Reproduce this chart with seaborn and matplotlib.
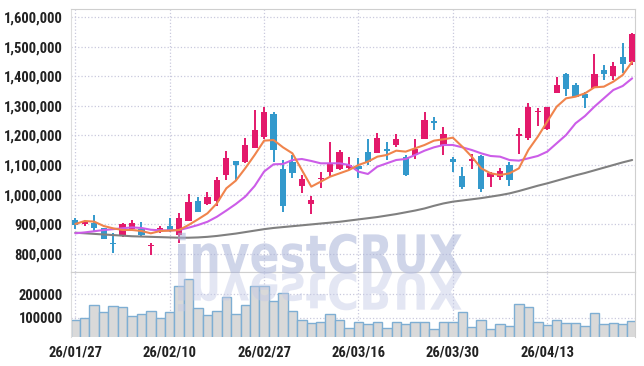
import matplotlib
matplotlib.use("Agg")
import matplotlib.pyplot as plt
from matplotlib import font_manager as fm
from matplotlib.textpath import TextPath
from matplotlib.patches import PathPatch
from matplotlib.transforms import Affine2D, IdentityTransform
from matplotlib.ticker import FuncFormatter
import pandas as pd
import seaborn as sns

# trading days shown (2026)
dates = [
    "01-27", "01-28", "01-29", "01-30",
    "02-02", "02-03", "02-04", "02-05", "02-06", "02-09", "02-10", "02-11", "02-12", "02-13",
    "02-19", "02-20", "02-23", "02-24", "02-25", "02-26", "02-27",
    "03-03", "03-04", "03-05", "03-06", "03-09", "03-10", "03-11", "03-12", "03-13", "03-16",
    "03-17", "03-18", "03-19", "03-20", "03-23", "03-24", "03-25", "03-26", "03-27", "03-30", "03-31",
    "04-01", "04-02", "04-03", "04-06", "04-07", "04-08", "04-09", "04-10", "04-13",
    "04-14", "04-15", "04-16", "04-17", "04-20", "04-21", "04-22", "04-23", "04-24",
]

open_ = [914000, 900500, 905000, 885800, 837300, 859900, 884700, 882400, 826000, 874500,
         893700, 864400, 911800, 978300, 969300, 979500, 1066300, 1112600, 1111400, 1158800,
         1196000, 1272700, 1086600, 1111400, 1030200, 967000, 1051600, 1077600, 1085500, 1088900,
         1096800, 1144100, 1141900, 1153200, 1167800, 1126100, 1134000, 1189300, 1249000, 1166700,
         1120400, 1062900, 1114800, 1131700, 1060700, 1060700, 1100100, 1199400, 1192600, 1278400,
         1222000, 1344900, 1408100, 1369700, 1340400, 1361800, 1420500, 1402500, 1464500, 1447600]
high = [919700, 914000, 930900, 887000, 868900, 905000, 914000, 908400, 835100, 893700,
        919700, 936600, 1000900, 993000, 1009900, 1060700, 1148700, 1113000, 1190400, 1286300,
        1295300, 1280600, 1117000, 1134000, 1066300, 995200, 1077600, 1176900, 1150900, 1128300,
        1122700, 1187000, 1207300, 1179100, 1205000, 1134000, 1187000, 1280600, 1263700, 1229900,
        1128300, 1094500, 1137400, 1133000, 1075000, 1091100, 1111400, 1224200, 1308800, 1291900,
        1297600, 1399000, 1412600, 1378800, 1348300, 1474600, 1438500, 1447600, 1511900, 1548000]
low = [882400, 893700, 874500, 849000, 801200, 855000, 877900, 855400, 794500, 868900,
       874500, 835100, 911000, 940000, 963700, 961400, 1049400, 1047100, 1105800, 1157000,
       1187000, 1111400, 940000, 1055000, 1004300, 934300, 1023400, 1060700, 1083000, 1083200,
       1055000, 1100100, 1140000, 1117000, 1159900, 1064000, 1119300, 1187000, 1218600, 1134000,
       1077600, 1017800, 1085500, 1009900, 1024600, 1048300, 1029100, 1136200, 1184700, 1233300,
       1220000, 1343000, 1334800, 1329100, 1291900, 1360000, 1386700, 1387800, 1410300, 1438500]
close = [897100, 911800, 888100, 850900, 832800, 900500, 902700, 863300, 829400, 888100,
         877900, 920800, 975000, 942200, 991900, 1049400, 1122700, 1101300, 1167800, 1218600,
         1278400, 1150900, 962500, 1074200, 1052800, 981700, 1056200, 1103500, 1144100, 1100100,
         1087700, 1111400, 1190400, 1148600, 1187000, 1066300, 1153200, 1252400, 1241100, 1205000,
         1111400, 1026800, 1119300, 1018900, 1074200, 1078700, 1049400, 1203900, 1295300, 1282900,
         1295300, 1369700, 1357300, 1331400, 1328000, 1408100, 1409200, 1436300, 1440800, 1543400]

ma_short = [900500, 910600, 908400, 893700, 885800, 880200, 880200, 876800, 868900, 876800,
            877900, 880200, 897100, 916300, 936600, 970400, 1021200, 1047100, 1088900, 1134000,
            1182500, 1184700, 1159900, 1139600, 1083200, 1026800, 1043700, 1060700, 1071900, 1083200,
            1100100, 1111400, 1128300, 1134000, 1148600, 1145300, 1156500, 1167800, 1182500, 1187000,
            1192600, 1162200, 1128300, 1088900, 1071900, 1066300, 1071900, 1088900, 1150900, 1196000,
            1246800, 1297500, 1325700, 1331400, 1342600, 1363000, 1365200, 1382100, 1404700, 1449800]
ma_mid = [869000, 872000, 876000, 880000, 883000, 886000, 889000, 887000, 881000, 879000,
          879000, 880000, 888000, 897000, 908000, 925000, 946000, 968000, 993000, 1029000,
          1078000, 1102400, 1103500, 1117000, 1120400, 1113700, 1105800, 1105800, 1105800, 1100100,
          1077600, 1069700, 1094500, 1105800, 1117000, 1120400, 1134000, 1148600, 1159900, 1167800,
          1167800, 1159900, 1150900, 1139600, 1130600, 1128300, 1117000, 1114800, 1122700, 1130600,
          1145300, 1173500, 1201700, 1241200, 1265900, 1297500, 1325700, 1353900, 1367500, 1393400]
ma_long = [871000, 869000, 867000, 865000, 863000, 861000, 859000, 858000, 857000, 856000,
           855000, 854000, 854000, 855000, 857000, 860000, 864000, 868000, 873000, 878000,
           883000, 887000, 890000, 893000, 896000, 899000, 902000, 905000, 908000, 912000,
           916000, 920000, 924000, 929000, 934000, 940000, 946000, 953000, 962000, 970000,
           976000, 980000, 984000, 988000, 993000, 998000, 1004000, 1012000, 1021000, 1030000,
           1038000, 1047000, 1056000, 1065000, 1073000, 1082000, 1091000, 1100000, 1109000, 1117000]

volume = [90400, 98700, 154200, 125000, 148700, 145800, 108300, 116700, 129200, 98700,
          125000, 232100, 265500, 141700, 112500, 129200, 186200, 116700, 154200, 232100,
          232100, 170800, 204200, 129200, 90400, 79200, 83300, 116700, 90400, 58300,
          83300, 75000, 83300, 58300, 83300, 75000, 83300, 83300, 54200, 83300,
          83300, 125000, 62500, 90400, 54200, 75000, 66700, 157100, 145800, 83300,
          70800, 90400, 79200, 79200, 66700, 120800, 75000, 79200, 75000, 87500]

tick_dates = ["01-27", "02-10", "02-27", "03-16", "03-30", "04-13"]
tick_labels = ["26/01/27", "26/02/10", "26/02/27", "26/03/16", "26/03/30", "26/04/13"]
price_ticks = [800000, 900000, 1000000, 1100000, 1200000, 1300000, 1400000, 1500000, 1600000]
volume_ticks = [100000, 200000]

UP = "#e3196b"
DOWN = "#3399cc"
GRID = "#c9c9dd"
BORDER = "#cfcfcf"


def pick_font(names):
    for n in names:
        try:
            fm.findfont(fm.FontProperties(family=n), fallback_to_default=False)
            return n
        except ValueError:
            pass
    return "DejaVu Sans"


def style_axis(ax):
    ax.grid(True, color=GRID, linestyle=":", linewidth=0.9)
    ax.set_axisbelow(True)
    ax.tick_params(length=0, labelsize=10.5, colors="#222222", pad=6)
    for side in ["top", "right"]:
        ax.spines[side].set_color(BORDER)
    ax.spines["left"].set_color("#dddddd")
    ax.spines["bottom"].set_visible(False)
    for lab in ax.get_xticklabels() + ax.get_yticklabels():
        lab.set_fontweight("semibold")
    ax.set_xlabel("")
    ax.set_ylabel("")


def main():
    sns.set_style("white")
    font = pick_font(["Roboto Condensed", "Liberation Sans Narrow", "Open Sans Condensed", "DejaVu Sans"])
    plt.rcParams["font.family"] = [font, "DejaVu Sans"]

    df = pd.DataFrame({"date": dates, "open": open_, "high": high, "low": low, "close": close,
                       "ma_short": ma_short, "ma_mid": ma_mid, "ma_long": ma_long, "volume": volume})
    df["idx"] = range(len(df))
    df["up"] = df["close"] >= df["open"]
    df["color"] = df["up"].map({True: UP, False: DOWN})

    fig = plt.figure(figsize=(6.44, 3.66), dpi=100)
    ax = fig.add_axes([71 / 644, 94 / 366, 564 / 644, 263 / 366])
    axv = fig.add_axes([71 / 644, 29 / 366, 564 / 644, 65 / 366], sharex=ax)

    # candles
    ax.vlines(df["idx"], df["low"], df["high"], colors=df["color"], linewidth=1.4, zorder=3)
    body_lo = df[["open", "close"]].min(axis=1)
    body_h = (df["close"] - df["open"]).abs().clip(lower=2500)
    ax.bar(df["idx"], body_h, bottom=body_lo, width=0.66, color=df["color"], linewidth=0, zorder=3)

    # moving averages
    sns.lineplot(data=df, x="idx", y="ma_long", ax=ax, color="#808080", linewidth=1.5, zorder=4)
    sns.lineplot(data=df, x="idx", y="ma_mid", ax=ax, color="#cc5de8", linewidth=1.5, zorder=4)
    sns.lineplot(data=df, x="idx", y="ma_short", ax=ax, color="#f0844c", linewidth=1.5, zorder=4)

    # volume
    sns.barplot(data=df, x="idx", y="volume", ax=axv, color="#d9d9d9", edgecolor="#7eaed3",
                linewidth=1.0, width=1.0, saturation=1, native_scale=True, zorder=2)

    ax.set_ylim(738000, 1628000)
    ax.set_yticks(price_ticks)
    ax.yaxis.set_major_formatter(FuncFormatter(lambda v, p: f"{v:,.0f}"))
    axv.set_ylim(19600, 293000)
    axv.set_yticks(volume_ticks)
    axv.yaxis.set_major_formatter(FuncFormatter(lambda v, p: f"{v:.0f}"))

    axv.set_xlim(-0.46, 59.3)
    axv.set_xticks([dates.index(d) for d in tick_dates], tick_labels)
    ax.tick_params(labelbottom=False)

    style_axis(ax)
    style_axis(axv)
    ax.spines["bottom"].set_visible(True)
    ax.spines["bottom"].set_color(BORDER)

    # watermark with reflection
    tp = TextPath((0, 0), "investCRUX", size=50,
                  prop=fm.FontProperties(family="DejaVu Sans", weight="bold"))
    ext = tp.get_extents()
    sx = 284 / ext.width
    sy = 41 / ext.height
    base_y = 366 - 273
    t_up = Affine2D().translate(-ext.x0, 0).scale(sx, sy).translate(178, base_y)
    t_dn = Affine2D().translate(-ext.x0, 0).scale(sx, -sy * 0.95).translate(178, base_y)
    fig.add_artist(PathPatch(t_up.transform_path(tp), facecolor="#a9b3d8", edgecolor="none",
                             alpha=0.55, transform=IdentityTransform(), zorder=10))
    fig.add_artist(PathPatch(t_dn.transform_path(tp), facecolor="#c3c9e6", edgecolor="none",
                             alpha=0.45, transform=IdentityTransform(), zorder=10))

    fig.savefig("out.png", dpi=100)
    plt.close(fig)


if __name__ == "__main__":
    main()
